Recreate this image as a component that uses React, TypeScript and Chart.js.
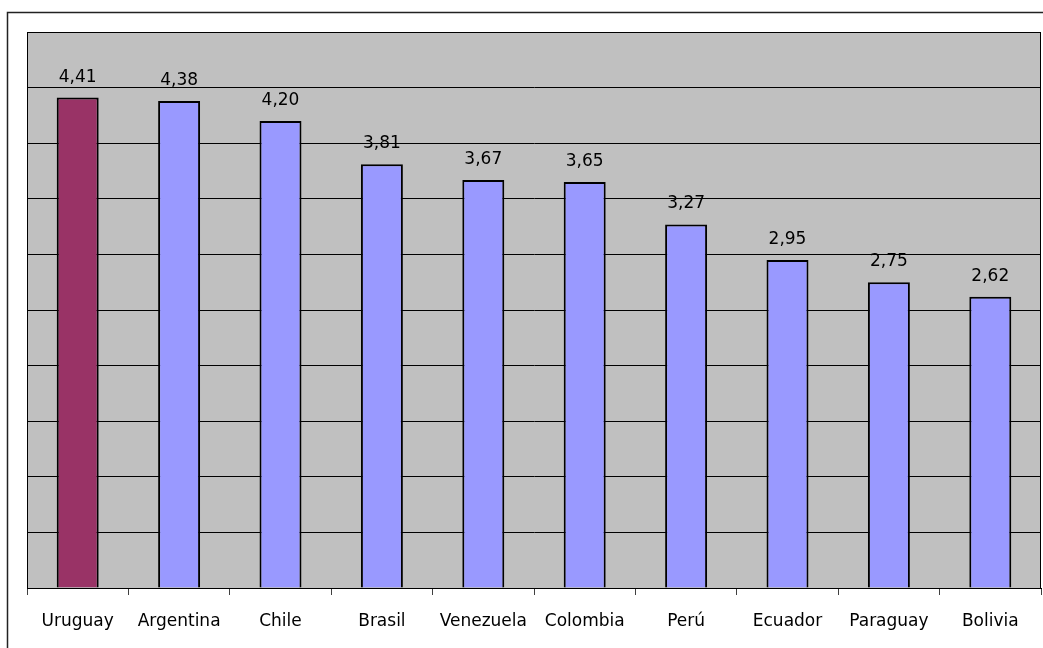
import React, { useEffect, useRef } from "react";
import { Chart, registerables } from "chart.js";

Chart.register(...registerables);

const categories = ["Uruguay", "Argentina", "Chile", "Brasil", "Venezuela", "Colombia", "Perú", "Ecuador", "Paraguay", "Bolivia"];
const values = [4.41, 4.38, 4.2, 3.81, 3.67, 3.65, 3.27, 2.95, 2.75, 2.62];
const barColors = ["#993366", "#9999FF", "#9999FF", "#9999FF", "#9999FF", "#9999FF", "#9999FF", "#9999FF", "#9999FF", "#9999FF"];
const yMax = 5;
const yStep = 0.5;

const FONT = "'DejaVu Sans', sans-serif";

export default function App() {
  const ref = useRef<HTMLCanvasElement | null>(null);

  useEffect(() => {
    if (!ref.current) return;
    const framePlugin = {
      id: "frame",
      beforeDraw(chart: any) {
        const { ctx, chartArea } = chart;
        ctx.save();
        ctx.fillStyle = "#ffffff";
        ctx.fillRect(0, 0, chart.width, chart.height);
        ctx.strokeStyle = "#222222";
        ctx.lineWidth = 1.5;
        ctx.strokeRect(7.5, 12.5, chart.width + 20, chart.height + 20);
        ctx.fillStyle = "#C0C0C0";
        ctx.fillRect(chartArea.left, chartArea.top, chartArea.right - chartArea.left, chartArea.bottom - chartArea.top);
        ctx.restore();
      },
      afterDatasetsDraw(chart: any) {
        const { ctx, chartArea } = chart;
        ctx.save();
        ctx.strokeStyle = "#000000";
        ctx.lineWidth = 1;
        ctx.strokeRect(Math.round(chartArea.left) + 0.5, Math.round(chartArea.top) + 0.5, Math.round(chartArea.right - chartArea.left) - 1, Math.round(chartArea.bottom - chartArea.top));
        const meta = chart.getDatasetMeta(0);
        ctx.fillStyle = "#000000";
        ctx.font = `17px ${FONT}`;
        ctx.textAlign = "center";
        ctx.textBaseline = "alphabetic";
        meta.data.forEach((bar: any, i: number) => {
          const txt = values[i].toFixed(2).replace(".", ",");
          ctx.fillText(txt, bar.x, bar.y - 16);
        });
        ctx.restore();
      },
    };

    const chart = new Chart(ref.current, {
      type: "bar",
      data: {
        labels: categories,
        datasets: [
          {
            data: values,
            backgroundColor: barColors,
            borderColor: "#000000",
            borderWidth: 2,
            barPercentage: 0.414,
            categoryPercentage: 1,
          },
        ],
      },
      options: {
        animation: false,
        responsive: false,
        maintainAspectRatio: false,
        events: [],
        layout: { padding: { left: 27, top: 32, right: 2, bottom: 0 } },
        plugins: { legend: { display: false }, tooltip: { enabled: false }, title: { display: false } },
        scales: {
          x: {
            afterFit(scale: any) {
              scale.height = 60;
            },
            grid: {
              drawOnChartArea: false,
              drawTicks: true,
              tickLength: 7,
              color: "#404040",
              offset: true,
            },
            border: { display: true, color: "#000000", width: 1 },
            ticks: {
              color: "#000000",
              font: { family: FONT, size: 17 },
              padding: 16,
              maxRotation: 0,
              autoSkip: false,
            },
          },
          y: {
            min: 0,
            max: yMax,
            afterFit(scale: any) {
              scale.width = 0;
            },
            ticks: { display: false, stepSize: yStep },
            grid: { color: "#000000", lineWidth: 1, drawTicks: false },
            border: { display: true, color: "#000000", width: 1 },
          },
        },
      },
      plugins: [framePlugin],
    });
    return () => chart.destroy();
  }, []);

  return (
    <div style={{ position: "absolute", left: 0, top: 0, width: 1043, height: 648 }}>
      <canvas ref={ref} width={1043} height={648} style={{ display: "block", width: 1043, height: 648 }} />
    </div>
  );
}
